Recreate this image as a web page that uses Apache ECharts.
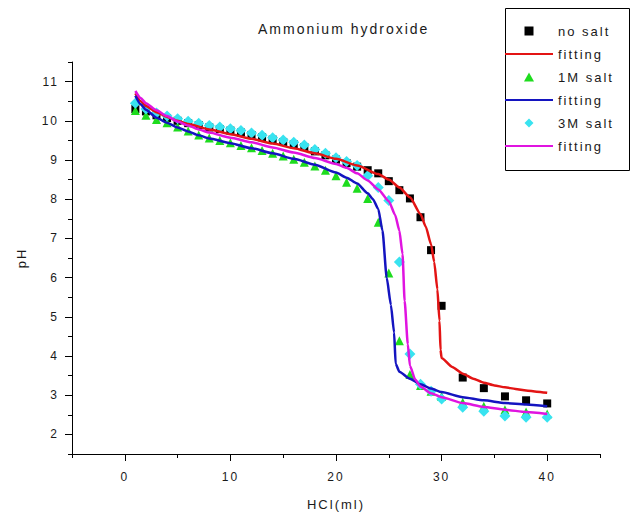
<!DOCTYPE html>
<html>
<head>
<meta charset="utf-8">
<script src="https://cdn.jsdelivr.net/npm/echarts@6.0.0/dist/echarts.min.js"></script>
<style>
  html, body { margin: 0; padding: 0; background: #fff; }
  #chart { width: 632px; height: 516px; }
  #chart text { letter-spacing: 2px; }
</style>
</head>
<body>
<div id="chart"></div>
<script>
// titration of ammonium hydroxide with HCl
const noSaltX = [1, 2, 3, 4, 5, 6, 7, 8, 9, 10, 11, 12, 13, 14, 15, 16, 17, 18, 19, 20,
  21, 22, 23, 24, 25, 26, 27, 28, 29, 30, 32, 34, 36, 38, 40];
const noSaltY = [10.3, 10.24, 10.14, 10.07, 10.0, 9.94, 9.89, 9.83, 9.79, 9.75, 9.7, 9.64, 9.58, 9.52, 9.46, 9.4, 9.33, 9.22, 9.12, 9.01,
  8.92, 8.83, 8.74, 8.66, 8.46, 8.23, 8.02, 7.54, 6.7, 5.28, 3.45, 3.18, 2.97, 2.87, 2.79];

const fitNoSaltX = [1, 1.5, 2, 3, 4, 5, 6, 8, 10, 12, 14, 16, 18, 20, 22, 24, 25, 26, 27, 28,
  28.5, 29, 29.3, 29.6, 29.8, 29.9, 30, 31, 32, 33, 34, 35, 36, 37, 38, 39, 40];
const fitNoSaltY = [10.7, 10.5, 10.38, 10.22, 10.1, 10.0, 9.92, 9.78, 9.66, 9.54, 9.42, 9.3, 9.17, 9.03, 8.86, 8.64, 8.5, 8.3, 8.05, 7.62,
  7.3, 6.85, 6.4, 5.7, 4.9, 4.15, 3.95, 3.72, 3.55, 3.42, 3.32, 3.25, 3.2, 3.16, 3.12, 3.09, 3.06];

const salt1X = [1, 2, 3, 4, 5, 6, 7, 8, 9, 10, 11, 12, 13, 14, 15, 16, 17, 18, 19, 20,
  21, 22, 23, 24, 25, 26, 27, 28, 29, 30, 32, 34, 36, 38, 40];
const salt1Y = [10.26, 10.14, 10.03, 9.95, 9.84, 9.74, 9.64, 9.56, 9.5, 9.44, 9.37, 9.31, 9.24, 9.17, 9.1, 9.02, 8.94, 8.85, 8.74, 8.6,
  8.43, 8.28, 8.02, 7.41, 6.12, 4.39, 3.53, 3.25, 3.1, 2.97, 2.82, 2.72, 2.63, 2.57, 2.52];

const fitSalt1X = [1, 1.5, 2, 3, 4, 5, 6, 7, 8, 10, 12, 14, 16, 18, 20, 21, 22, 23, 23.5, 24,
  24.4, 24.8, 25.2, 25.5, 25.65, 26, 27, 28, 29, 30, 32, 34, 36, 38, 40];
const fitSalt1Y = [10.64, 10.42, 10.28, 10.08, 9.95, 9.83, 9.73, 9.63, 9.55, 9.43, 9.3, 9.17, 9.03, 8.88, 8.68, 8.55, 8.4, 8.15, 8.0, 7.75,
  7.2, 6.0, 5.3, 4.6, 3.8, 3.6, 3.42, 3.28, 3.17, 3.08, 2.95, 2.87, 2.8, 2.76, 2.72];

const salt3X = [1, 2, 3, 4, 5, 6, 7, 8, 9, 10, 11, 12, 13, 14, 15, 16, 17, 18, 19, 20,
  21, 22, 23, 24, 25, 26, 27, 28, 29, 30, 32, 34, 36, 38, 40];
const salt3Y = [10.45, 10.3, 10.2, 10.12, 10.05, 9.99, 9.94, 9.88, 9.84, 9.8, 9.75, 9.69, 9.63, 9.57, 9.51, 9.45, 9.38, 9.27, 9.17, 9.06,
  8.96, 8.86, 8.6, 8.3, 7.97, 6.4, 4.05, 3.28, 3.1, 2.9, 2.69, 2.59, 2.47, 2.44, 2.44];

const fitSalt3X = [1, 1.5, 2, 3, 4, 5, 6, 7, 8, 10, 12, 14, 16, 18, 20, 21, 22, 23, 24, 25,
  25.6, 26, 26.3, 26.5, 26.8, 27, 27.5, 28, 29, 30, 32, 34, 36, 38, 40];
const fitSalt3Y = [10.76, 10.58, 10.45, 10.27, 10.12, 9.98, 9.88, 9.78, 9.7, 9.57, 9.45, 9.32, 9.19, 9.05, 8.9, 8.8, 8.66, 8.48, 8.25, 7.95,
  7.6, 7.2, 6.6, 5.4, 4.3, 3.75, 3.4, 3.22, 3.05, 2.95, 2.8, 2.7, 2.63, 2.57, 2.52];

const xMajor = [0, 10, 20, 30, 40];
const xMinor = [-5, 5, 15, 25, 35, 45];
const yMajor = [2, 3, 4, 5, 6, 7, 8, 9, 10, 11];
const yMinor = [1.5, 2.5, 3.5, 4.5, 5.5, 6.5, 7.5, 8.5, 9.5, 10.5, 11.5];

const font = '"Liberation Sans", Arial, sans-serif';
const ink = '#1a1a1a';

const lineIcon = 'path://M0,0H48V2H0Z';

function pairs(xs, ys) {
  return xs.map((x, i) => [x, ys[i]]);
}

function lineSeries(name, xs, ys, color) {
  return {
    name: name, type: 'line', symbol: 'none', smooth: 0.2, smoothMonotone: 'x',
    itemStyle: { color: color }, lineStyle: { color: color, width: 2.5 },
    data: pairs(xs, ys)
  };
}

function dotSeries(name, xs, ys, symbol, size, color) {
  return {
    name: name, type: 'scatter', symbol: symbol, symbolSize: size,
    itemStyle: { color: color, opacity: 1 },
    data: pairs(xs, ys)
  };
}

function axisPair(dim, min, max, major, minor, margin, extra) {
  const pos = dim === 'x' ? 'bottom' : 'left';
  const main = Object.assign({
    type: 'value', min: min, max: max, position: pos,
    axisLine: { onZero: false, lineStyle: { color: '#000', width: 1 } },
    axisTick: { customValues: major, length: 7, lineStyle: { color: '#000', width: 1 } },
    axisLabel: { customValues: major, margin: margin, fontSize: 12, color: ink, fontFamily: font },
    splitLine: { show: false }
  }, extra);
  const minorAxis = {
    type: 'value', min: min, max: max, position: pos,
    axisLine: { show: false, onZero: false },
    axisTick: { customValues: minor, length: 4, lineStyle: { color: '#000', width: 1 } },
    axisLabel: { show: false },
    splitLine: { show: false }
  };
  return [main, minorAxis];
}

const chart = echarts.init(document.getElementById('chart'), null, { renderer: 'svg' });

chart.setOption({
  animation: false,
  backgroundColor: '#fff',
  title: {
    text: 'Ammonium hydroxide', left: 258, top: 22, padding: 0,
    textStyle: { fontFamily: font, fontSize: 14, fontWeight: 'normal', color: ink }
  },
  legend: {
    orient: 'vertical', left: 505, top: 24, padding: 0,
    itemWidth: 48, itemHeight: 9, itemGap: 9,
    selectedMode: false, symbolKeepAspect: true,
    data: [
      { name: 'no salt', icon: 'path://M0,0H8V8H0Z' },
      { name: 'fit no salt', icon: lineIcon },
      { name: '1M salt', icon: 'path://M5,0L10,9L0,9Z' },
      { name: 'fit 1M salt', icon: lineIcon },
      { name: '3M salt', icon: 'path://M6,0L12,6L6,12L0,6Z' },
      { name: 'fit 3M salt', icon: lineIcon }
    ],
    formatter: name => name.indexOf('fit ') === 0 ? 'fitting' : name,
    textStyle: { fontFamily: font, fontSize: 13, color: ink, lineHeight: 14 }
  },
  graphic: [{
    type: 'rect', left: 503, top: 6,
    shape: { x: 0, y: 0, width: 124, height: 162 },
    style: { fill: 'none', stroke: '#000', lineWidth: 1 }
  }],
  grid: { left: 72, right: 32, top: 62, bottom: 61 },
  xAxis: axisPair('x', -5, 45, xMajor, xMinor, 17, {
    name: 'HCl(ml)', nameLocation: 'middle', nameGap: 44,
    nameTextStyle: { fontFamily: font, fontSize: 13, color: ink }
  }),
  yAxis: axisPair('y', 1.5, 11.5, yMajor, yMinor, 13, {
    name: 'pH', nameLocation: 'middle', nameGap: 44,
    nameTextStyle: { fontFamily: font, fontSize: 13, color: ink }
  }),
  series: [
    dotSeries('no salt', noSaltX, noSaltY, 'rect', 8, '#000'),
    lineSeries('fit no salt', fitNoSaltX, fitNoSaltY, '#e31414'),
    dotSeries('1M salt', salt1X, salt1Y, 'triangle', 9, '#1edc1e'),
    lineSeries('fit 1M salt', fitSalt1X, fitSalt1Y, '#1414c0'),
    dotSeries('3M salt', salt3X, salt3Y, 'diamond', 11, '#38e3f0'),
    lineSeries('fit 3M salt', fitSalt3X, fitSalt3Y, '#e014e0')
  ]
});
</script>
</body>
</html>
